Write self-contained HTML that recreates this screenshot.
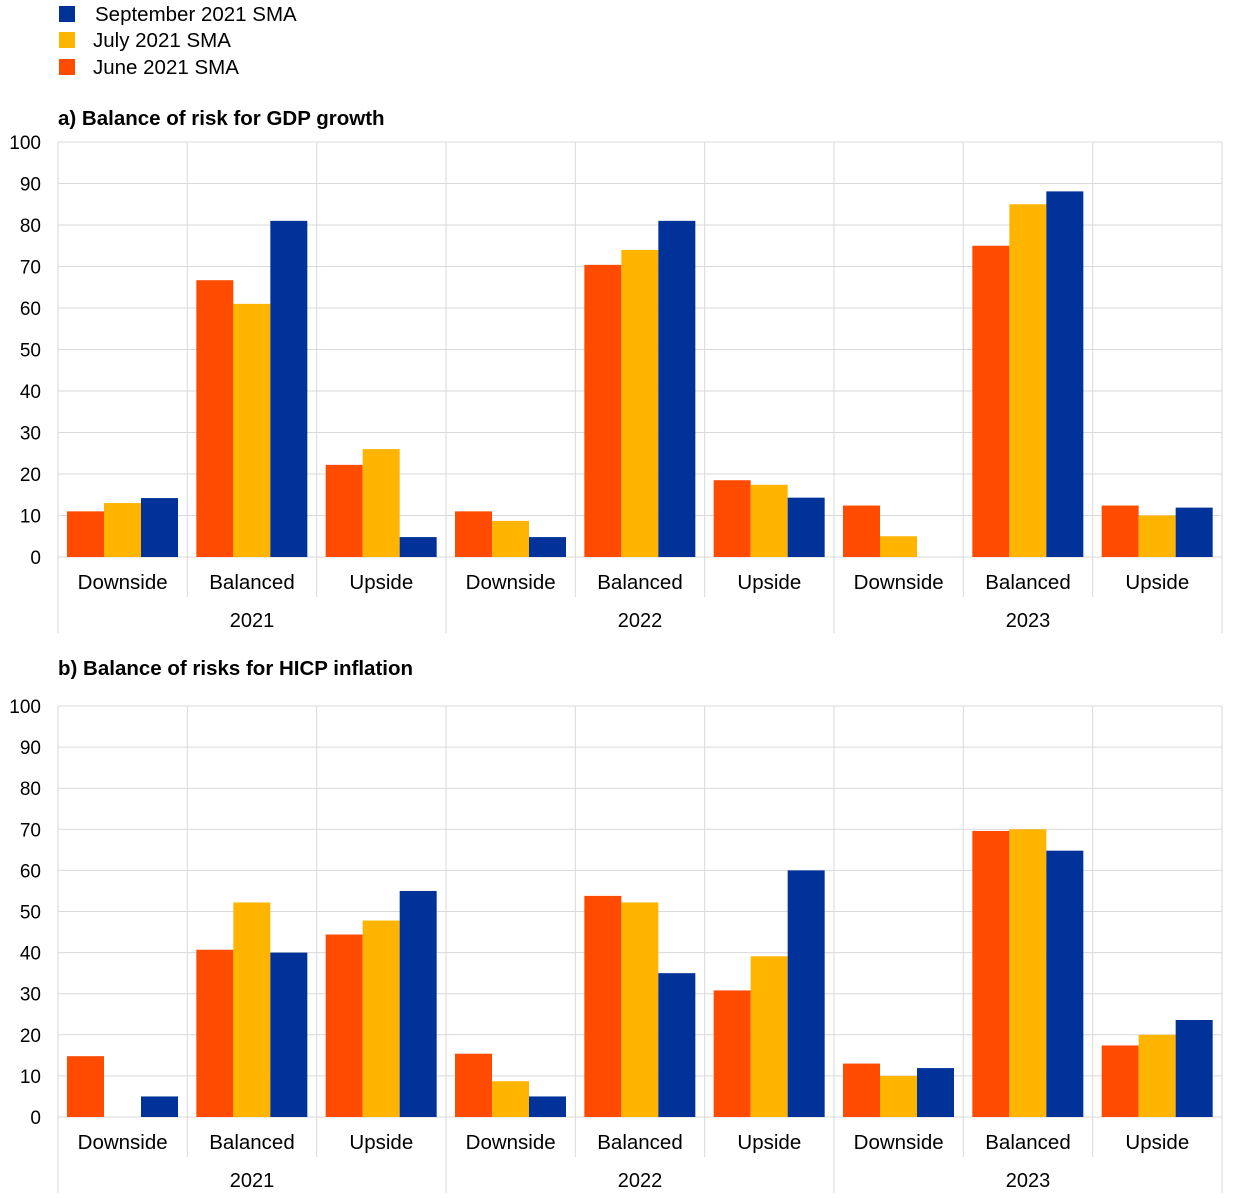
<!DOCTYPE html>
<html><head><meta charset="utf-8"><style>body{margin:0;background:#fff}svg{display:block;font-family:"Liberation Sans",Arial,sans-serif}</style></head>
<body>
<svg id="s" width="1240" height="1198" xmlns="http://www.w3.org/2000/svg"></svg>
<script>
const s=document.getElementById('s');let h='';
const C=['#FF4B00','#FFB400','#003299'];
h+=`<rect x="59" y="6" width="16" height="16" fill="${C[2]}"/><text x="95" y="21" font-size="20.5">September 2021 SMA</text>`;
h+=`<rect x="59" y="32" width="16" height="16" fill="${C[1]}"/><text x="93" y="47" font-size="20.5">July 2021 SMA</text>`;
h+=`<rect x="59" y="59" width="16" height="16" fill="${C[0]}"/><text x="93" y="74" font-size="20.5">June 2021 SMA</text>`;
function chart(title,ty,y0,y100,data){
 const k=(y0-y100)/100;
 h+=`<text x="58" y="${ty}" font-size="20.5" font-weight="bold">${title}</text>`;
 for(let v=0;v<=100;v+=10){const y=y0-v*k;h+=`<line x1="58" x2="1222" y1="${y}" y2="${y}" stroke="#d9d9d9"/><text x="41" y="${y+7}" font-size="19" text-anchor="end">${v}</text>`;}
 const gw=(1222-58)/9;
 for(let i=0;i<=9;i++){const x=58+i*gw;const yr=i%3==0;h+=`<line x1="${x}" x2="${x}" y1="${y100}" y2="${yr?y0+76:y0+40}" stroke="#d9d9d9"/>`;}
 const cats=['Downside','Balanced','Upside'];
 data.forEach((g,i)=>{const gx=58+i*gw;g.forEach((v,j)=>{if(v>0)h+=`<rect x="${gx+9+j*37}" y="${y0-v*k}" width="37" height="${v*k}" fill="${C[j]}"/>`;});
  h+=`<text x="${gx+gw/2}" y="${y0+32}" font-size="20.5" text-anchor="middle">${cats[i%3]}</text>`;});
 ['2021','2022','2023'].forEach((t,i)=>h+=`<text x="${58+(i*3+1.5)*gw}" y="${y0+70}" font-size="20" text-anchor="middle">${t}</text>`);
}
chart('a) Balance of risk for GDP growth',125,557,142,[[11,13,14.2],[66.7,61,81],[22.2,26,4.8],[11,8.7,4.8],[70.4,74,81],[18.5,17.4,14.3],[12.4,5,0],[75,85,88.1],[12.4,10,11.9]]);
chart('b) Balance of risks for HICP inflation',675,1117,706,[[14.8,0,5],[40.7,52.2,40],[44.4,47.8,55],[15.4,8.7,5],[53.8,52.2,35],[30.8,39.1,60],[13,10,11.9],[69.6,70,64.8],[17.4,20,23.6]]);
s.innerHTML=h;
</script>
</body></html>
